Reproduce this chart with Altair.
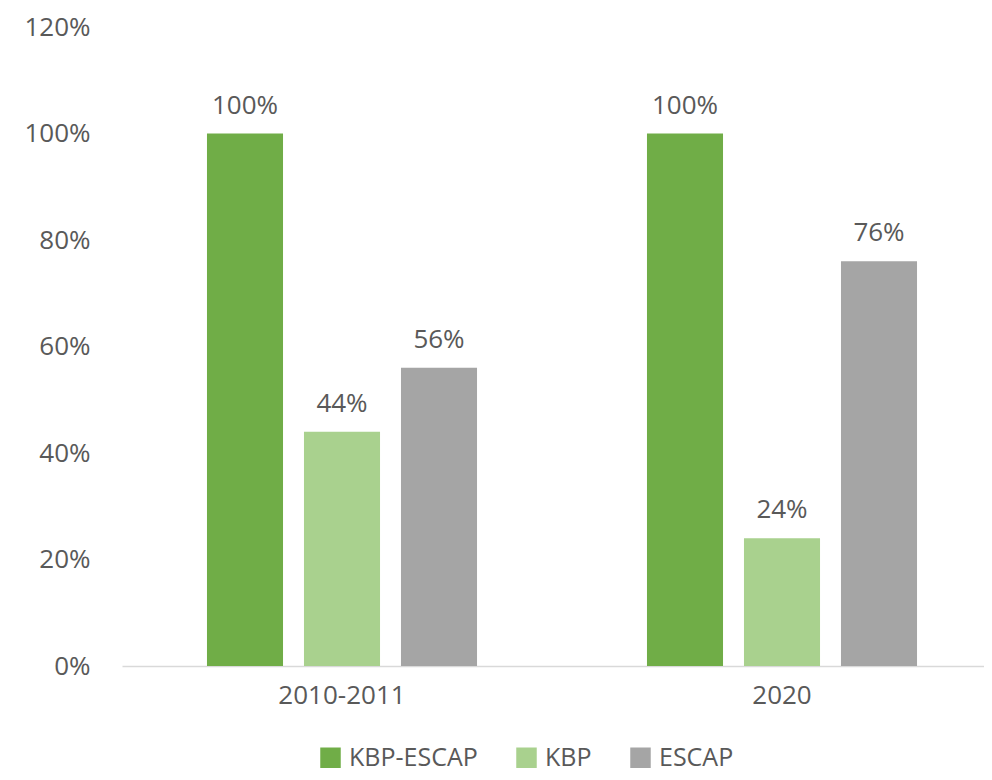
import altair as alt
import pandas as pd

periods = ["2010-2011", "2020"]
series = ["KBP-ESCAP", "KBP", "ESCAP"]
values = {
    "KBP-ESCAP": [1.00, 1.00],
    "KBP": [0.44, 0.24],
    "ESCAP": [0.56, 0.76],
}
colors = ["#70AD47", "#A9D18E", "#A5A5A5"]

rows = []
for s in series:
    for p, v in zip(periods, values[s]):
        rows.append({"period": p, "series": s, "value": v})
df = pd.DataFrame(rows)

FONT = "Open Sans"
TXT = "#595959"
FS = 26

base = alt.Chart(df).encode(
    x=alt.X("period:N", sort=periods, title=None,
            scale=alt.Scale(paddingInner=0, paddingOuter=0, range=[0, 880]),
            axis=alt.Axis(labelAngle=0, labelFontSize=FS, labelColor=TXT, labelFont=FONT,
                          ticks=False, domainColor="#D9D9D9", domainWidth=1.5,
                          labelPadding=16)),
    xOffset=alt.XOffset("series:N", sort=series,
                        scale=alt.Scale(paddingInner=0.216, paddingOuter=0.876)),
    y=alt.Y("value:Q", title=None,
            scale=alt.Scale(domain=[0, 1.2], nice=False),
            axis=alt.Axis(values=[0, 0.2, 0.4, 0.6, 0.8, 1.0, 1.2], format=".0%",
                          grid=False, domain=False, ticks=False,
                          labelFontSize=FS, labelColor=TXT, labelFont=FONT,
                          labelPadding=32)),
)

bars = base.mark_bar().encode(
    color=alt.Color("series:N", sort=series,
                    scale=alt.Scale(domain=series, range=colors),
                    legend=alt.Legend(title=None, orient="none", direction="horizontal",
                                      legendX=196, legendY=718,
                                      symbolType="square", symbolSize=420,
                                      symbolStrokeWidth=0,
                                      labelFontSize=25, labelColor=TXT, labelFont=FONT,
                                      columnPadding=36, labelOffset=6))
)

labels = base.mark_text(dy=-28, fontSize=FS, color=TXT, font=FONT).encode(
    text=alt.Text("value:Q", format=".0%")
)

chart = (bars + labels).properties(
    width=862, height=639,
    padding={"left": 114, "top": 19, "right": 0, "bottom": 106},
    autosize=alt.AutoSizeParams(type="none"),
).configure_view(stroke=None)

chart.save("out.html", embed_options={"renderer": "svg", "actions": False})
